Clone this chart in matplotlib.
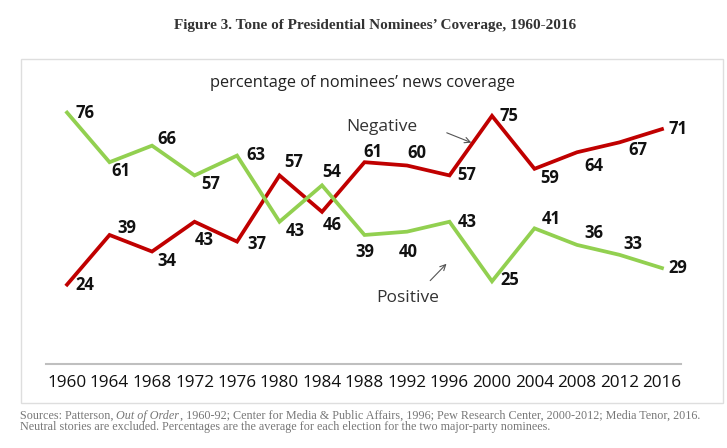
import matplotlib
matplotlib.use("Agg")
import matplotlib.pyplot as plt
from matplotlib.patches import Rectangle

years = [1960, 1964, 1968, 1972, 1976, 1980, 1984, 1988, 1992, 1996,
         2000, 2004, 2008, 2012, 2016]
negative = [24, 39, 34, 43, 37, 57, 46, 61, 60, 57, 75, 59, 64, 67, 71]
positive = [76, 61, 66, 57, 63, 43, 54, 39, 40, 43, 25, 41, 36, 33, 29]

# label offsets in pixels (dx to left edge, dy up)
neg_off = [(8, 0), (8, 7), (5, -9), (0, -18), (10, -2), (5, 13), (1, -13),
           (-1, 10), (0, 13), (8, 0), (8, 0), (6, -9), (7, -14), (9, -8), (7, 0)]
pos_off = [(8, 0), (2, -9), (5, 7), (7, -9), (9, 1), (6, -9), (0, 13),
           (-9, -17), (-8, -20), (8, 0), (8, 1), (7, 9), (7, 12), (4, 11), (6, 0)]

RED = "#c00000"
GREEN = "#92d050"
SANS = "Open Sans"
SERIF = "Liberation Serif"

fig = plt.figure(figsize=(7.27, 4.48), dpi=100)
W, H = 727, 448

# outer frame
fig.patches.append(Rectangle((21 / W, (H - 403) / H), 702 / W, 344 / H,
                             transform=fig.transFigure, facecolor="white",
                             edgecolor="#dedede", linewidth=1, zorder=-5))

ax = fig.add_axes([46 / W, (H - 364) / H, 635 / W, 264 / H])
ax.set_zorder(2)
ax.set_facecolor("none")
ax.plot(years, negative, color=RED, lw=2.7, clip_on=False, solid_joinstyle="miter")
ax.plot(years, positive, color=GREEN, lw=2.7, clip_on=False, solid_joinstyle="miter")

for yr, v, (dx, dy) in zip(years, negative, neg_off):
    ax.annotate(str(v), (yr, v), xytext=(dx, dy), textcoords="offset pixels",
                ha="left", va="center", fontsize=12, fontweight="bold",
                family=SANS, color="#111111")
for yr, v, (dx, dy) in zip(years, positive, pos_off):
    ax.annotate(str(v), (yr, v), xytext=(dx, dy), textcoords="offset pixels",
                ha="left", va="center", fontsize=12, fontweight="bold",
                family=SANS, color="#111111")

ax.text(1989.6, 71.7, "Negative", ha="center", va="center", fontsize=12.5,
        family=SANS, color="#333333")
ax.annotate("", xy=(1998.3, 66.6), xytext=(1995.5, 70.2),
            arrowprops=dict(arrowstyle="->", color="#555555", lw=0.8))
ax.text(1992.1, 19.8, "Positive", ha="center", va="center", fontsize=12.5,
        family=SANS, color="#333333")
ax.annotate("", xy=(1995.9, 30.9), xytext=(1994.0, 24.6),
            arrowprops=dict(arrowstyle="->", color="#555555", lw=0.8))

ax.set_xlim(1958.02, 2017.79)
ax.set_ylim(0, 79.8)
ax.set_xticks(years)
ax.set_xticklabels([str(y) for y in years], family=SANS, fontsize=12.3,
                   color="#111111")
ax.set_yticks([])
ax.tick_params(axis="x", length=0, pad=8)
for s in ["top", "right", "left"]:
    ax.spines[s].set_visible(False)
ax.spines["bottom"].set_color("#bfbfbf")
ax.spines["bottom"].set_linewidth(1.5)

fig.text(375 / W, 1 - 26 / H, "Figure 3. Tone of Presidential Nominees\u2019 Coverage, 1960-2016",
         ha="center", va="center", family=SERIF, fontweight="bold", fontsize=11,
         color="#333333")
fig.text(362 / W, 1 - 83 / H, "percentage of nominees\u2019 news coverage",
         ha="center", va="center", family=SANS, fontsize=11.75, color="#222222")

# sources note, with the italic book title
src_kw = dict(family=SERIF, fontsize=8.7, color="#777777")
t1 = fig.text(20 / W, 1 - 422 / H, "Sources: Patterson, ", va="bottom", **src_kw)
t2 = ax.annotate("Out of Order", xy=(1, 0), xycoords=t1, va="bottom",
                 style="italic", annotation_clip=False, **src_kw)
ax.annotate(", 1960-92; Center for Media & Public Affairs, 1996; Pew Research Center, "
            "2000-2012; Media Tenor, 2016.", xy=(1, 0), xycoords=t2, va="bottom",
            annotation_clip=False, **src_kw)
fig.text(20 / W, 1 - 433 / H, "Neutral stories are excluded. Percentages are the average "
         "for each election for the two major-party nominees.", va="bottom", **src_kw)

fig.savefig("out.png", dpi=100)
